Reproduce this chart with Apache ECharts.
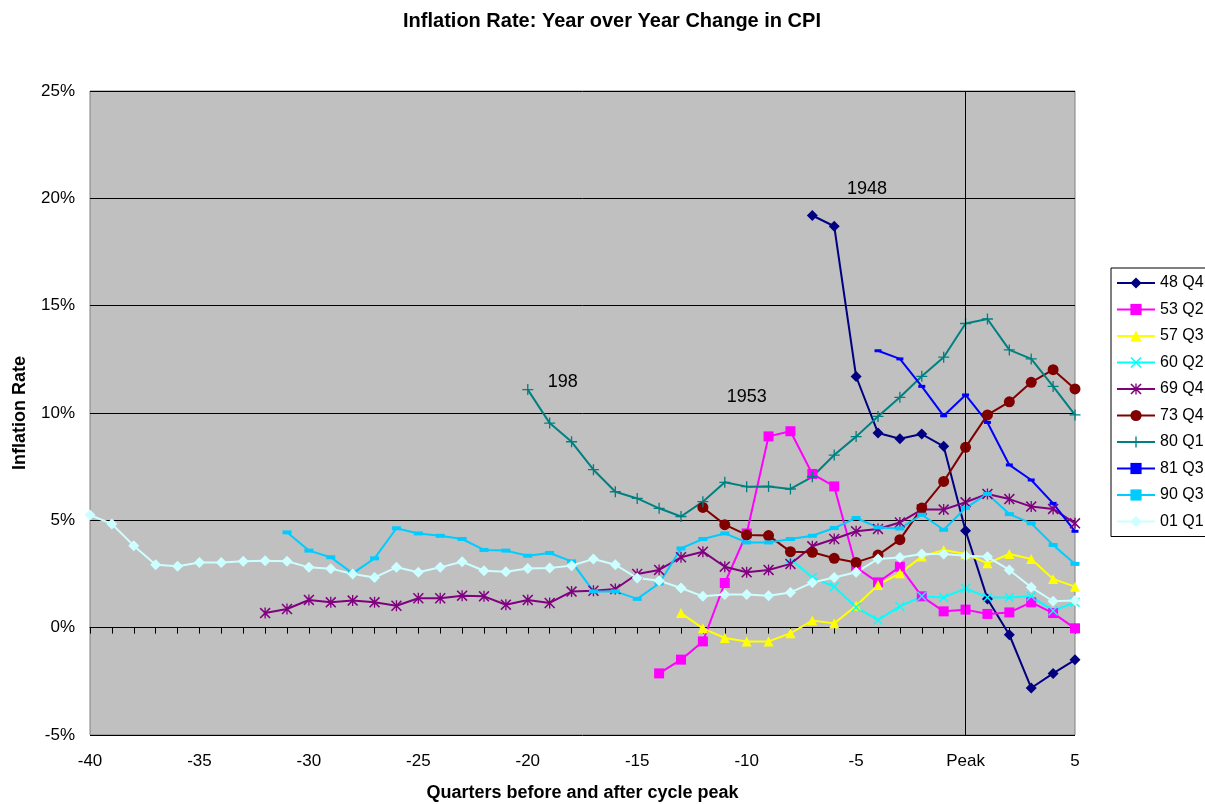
<!DOCTYPE html>
<html>
<head>
<meta charset="utf-8">
<script src="https://cdn.jsdelivr.net/npm/echarts@6/dist/echarts.min.js"></script>
<style>
  html, body { margin: 0; padding: 0; background: #fff; }
  #chart { width: 1205px; height: 804px; }
</style>
</head>
<body>
<div id="chart"></div>
<script>
// quarters relative to the cycle peak; each series starts at its own quarter
var seriesNames = ["48 Q4", "53 Q2", "57 Q3", "60 Q2", "69 Q4", "73 Q4", "80 Q1", "81 Q3", "90 Q3", "01 Q1"];
var startQuarter = [-7, -14, -13, -8, -32, -12, -20, -4, -31, -40];

var s48q4 = [19.2, 18.7, 11.7, 9.07, 8.8, 9.02, 8.45, 4.52, 1.34, -0.33, -2.81, -2.13, -1.5];
var s53q2 = [-2.13, -1.49, -0.64, 2.08, 4.39, 8.91, 9.15, 7.16, 6.58, 2.81, 2.11, 2.84, 1.46, 0.76, 0.84, 0.64, 0.71, 1.18, 0.68, -0.03];
var s57q3 = [0.68, -0.03, -0.48, -0.64, -0.64, -0.26, 0.33, 0.2, 1.02, 1.99, 2.53, 3.31, 3.62, 3.43, 3.0, 3.43, 3.2, 2.27, 1.91];
var s60q2 = [3.2, 2.34, 1.91, 0.95, 0.36, 0.99, 1.46, 1.41, 1.83, 1.41, 1.41, 1.46, 0.79, 1.18];
var s69q4 = [0.68, 0.87, 1.29, 1.18, 1.26, 1.18, 1.02, 1.37, 1.37, 1.49, 1.46, 1.07, 1.29, 1.15, 1.68, 1.72, 1.8, 2.5, 2.69, 3.28, 3.54, 2.84, 2.58, 2.69, 2.97, 3.79, 4.13, 4.49, 4.6, 4.9, 5.5, 5.5, 5.84, 6.23, 5.99, 5.64, 5.53, 4.86];
var s73q4 = [5.6, 4.8, 4.32, 4.29, 3.54, 3.51, 3.23, 3.04, 3.38, 4.1, 5.57, 6.81, 8.4, 9.91, 10.52, 11.43, 12.02, 11.12];
var s80q1 = [11.09, 9.53, 8.66, 7.36, 6.33, 6.02, 5.56, 5.18, 5.87, 6.77, 6.57, 6.58, 6.46, 7.03, 8.04, 8.9, 9.84, 10.73, 11.71, 12.6, 14.17, 14.38, 12.94, 12.52, 11.24, 9.91];
var s81q3 = [12.9, 12.52, 11.24, 9.87, 10.84, 9.56, 7.58, 6.88, 5.79, 4.49];
var s90q3 = [4.44, 3.59, 3.28, 2.53, 3.23, 4.63, 4.39, 4.28, 4.13, 3.62, 3.59, 3.35, 3.48, 3.09, 1.69, 1.69, 1.34, 2.06, 3.69, 4.13, 4.39, 3.97, 3.97, 4.13, 4.28, 4.64, 5.11, 4.67, 4.62, 5.26, 4.56, 5.57, 6.23, 5.29, 4.86, 3.85, 2.97];
var s01q1 = [5.25, 4.83, 3.82, 2.93, 2.86, 3.04, 3.04, 3.09, 3.12, 3.09, 2.81, 2.75, 2.5, 2.34, 2.81, 2.58, 2.81, 3.07, 2.65, 2.6, 2.76, 2.78, 2.89, 3.2, 2.93, 2.31, 2.19, 1.85, 1.46, 1.54, 1.54, 1.49, 1.64, 2.1, 2.34, 2.58, 3.2, 3.27, 3.43, 3.43, 3.35, 3.3, 2.69, 1.88, 1.23, 1.26];
var allValues = [s48q4, s53q2, s57q3, s60q2, s69q4, s73q4, s80q1, s81q3, s90q3, s01q1];

var xTicks = [-40, -35, -30, -25, -20, -15, -10, -5, 0, 5];
var yTicks = [-5, 0, 5, 10, 15, 20, 25];

// text notes put on the plot: [label, quarter, rate]
var notes = [["198", -18.4, 11.46], ["1953", -10.0, 10.76], ["1948", -4.5, 20.45]];

var colors = ["#000080", "#FF00FF", "#FFFF00", "#00FFFF", "#800080", "#800000", "#008080", "#0000FF", "#00CCFF", "#CCFFFF"];
var xMark = "path://M0,1L1,0L5,4L9,0L10,1L6,5L10,9L9,10L5,6L1,10L0,9L4,5Z";
var starMark = "path://M0,1L1,0L5,4L9,0L10,1L6,5L10,9L9,10L5,6L1,10L0,9L4,5Z M4.4,0H5.6V10H4.4Z";
var plusMark = "path://M4.4,0H5.6V4.4H10V5.6H5.6V10H4.4V5.6H0V4.4H4.4Z";
var symbols = ["diamond", "rect", "triangle", xMark, starMark, "circle", plusMark, "rect", "rect", "diamond"];
var symbolSizes = [11, 10, 10, 10, 11, 11, 11, [7, 3], [9, 4], 11];

function toPairs(start, vals) {
  return vals.map(function (v, i) { return [start + i, v]; });
}

var series = seriesNames.map(function (name, i) {
  return {
    name: name,
    type: "line",
    xAxisIndex: 0,
    data: toPairs(startQuarter[i], allValues[i]),
    symbol: symbols[i],
    symbolSize: symbolSizes[i],
    showAllSymbol: true,
    lineStyle: { color: colors[i], width: 2 },
    itemStyle: { color: colors[i] },
    emphasis: { disabled: true },
    animation: false,
  };
});

// vertical line at the peak
series[0].markLine = {
  silent: true,
  symbol: "none",
  label: { show: false },
  lineStyle: { color: "#000", width: 1, type: "solid" },
  data: [{ xAxis: 0 }],
};

// notes, each one on the series it belongs to
var noteSeries = [6, 1, 0];
notes.forEach(function (n, k) {
  series[noteSeries[k]].markPoint = {
    silent: true,
    symbol: "circle",
    symbolSize: 0,
    itemStyle: { color: "transparent" },
    label: {
      show: true,
      position: "inside",
      formatter: n[0],
      color: "#000",
      fontSize: 18,
      fontFamily: "Liberation Sans, Arial",
    },
    data: [{ coord: [n[1], n[2]] }],
  };
});

var chart = echarts.init(document.getElementById("chart"));
chart.setOption({
  backgroundColor: "#fff",
  animation: false,
  textStyle: { fontFamily: "Liberation Sans, Arial" },
  title: {
    text: "Inflation Rate: Year over Year Change in CPI",
    left: 607,
    textAlign: "center",
    top: 6,
    textStyle: { fontSize: 20, fontWeight: "bold", color: "#000" },
  },
  legend: {
    orient: "vertical",
    left: 1111,
    top: 268,
    padding: [7, 8, 7, 5],
    itemWidth: 38,
    itemHeight: 14,
    itemGap: 10.5,
    backgroundColor: "#fff",
    borderColor: "#000",
    borderWidth: 1,
    textStyle: { fontSize: 16, color: "#000" },
    data: seriesNames,
  },
  grid: {
    left: 90,
    right: 130,
    top: 91,
    bottom: 69,
    outerBoundsMode: "none",
    show: true,
    backgroundColor: "#C0C0C0",
    borderColor: "#808080",
    borderWidth: 1,
  },
  xAxis: [
    {
      type: "value",
      min: xTicks[0],
      max: xTicks[xTicks.length - 1],
      interval: 5,
      position: "bottom",
      axisLine: { show: false, onZero: false },
      axisTick: { show: false },
      splitLine: { show: false },
      axisLabel: {
        fontSize: 17,
        color: "#000",
        margin: 18,
        formatter: function (v) { return v === 0 ? "Peak" : String(v); },
      },
      name: "Quarters before and after cycle peak",
      nameLocation: "middle",
      nameGap: 49,
      nameTextStyle: { fontSize: 18, fontWeight: "bold", color: "#000" },
    },
    {
      type: "value",
      min: xTicks[0],
      max: xTicks[xTicks.length - 1],
      interval: 1,
      position: "bottom",
      axisLine: { show: true, onZero: true, lineStyle: { color: "#000", width: 1 } },
      axisTick: { show: true, length: 6, lineStyle: { color: "#000" } },
      axisLabel: { show: false },
      splitLine: { show: false },
    },
  ],
  yAxis: {
    type: "value",
    min: yTicks[0],
    max: yTicks[yTicks.length - 1],
    interval: 5,
    axisLine: { show: false },
    axisTick: { show: false },
    splitLine: { show: true, lineStyle: { color: "#000", width: 1 } },
    axisLabel: {
      fontSize: 17,
      color: "#000",
      margin: 15,
      formatter: "{value}%",
    },
    name: "Inflation Rate",
    nameLocation: "middle",
    nameGap: 61,
    nameTextStyle: { fontSize: 18, fontWeight: "bold", color: "#000" },
  },
  series: series,
});
</script>
</body>
</html>
